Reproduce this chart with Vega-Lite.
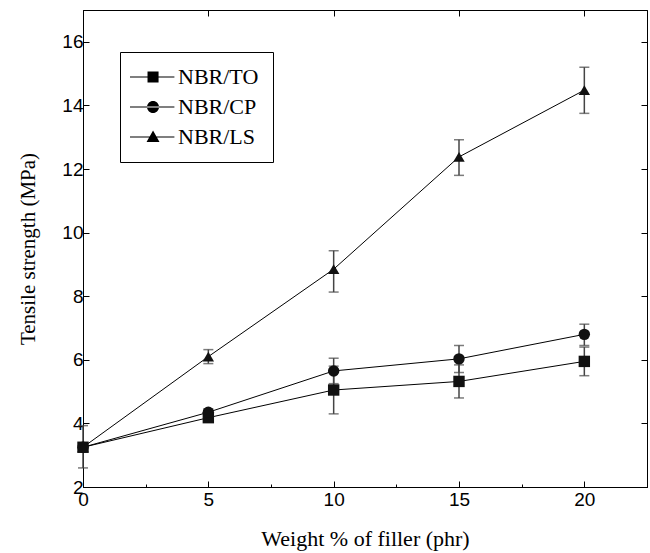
{
  "$schema": "https://vega.github.io/schema/vega-lite/v6.json",
  "autosize": {"type": "none"},
  "padding": {"left": 83, "top": 10, "right": 3, "bottom": 66},
  "width": 564,
  "height": 477,
  "background": "white",
  "config": {
    "view": {"stroke": "black", "strokeWidth": 1},
    "axis": {
      "domainColor": "black",
      "tickColor": "black",
      "labelColor": "black",
      "titleColor": "black",
      "grid": false,
      "labelFont": "Liberation Sans",
      "labelFontSize": 19,
      "titleFont": "Liberation Serif",
      "titleFontWeight": "normal",
      "titleFontSize": 21
    }
  },
  "data": {
    "values": [
      {"x": 0, "s": "NBR/TO", "y": 3.25, "lo": 2.6, "hi": 3.93},
      {"x": 5, "s": "NBR/TO", "y": 4.18, "lo": 4.08, "hi": 4.28},
      {"x": 10, "s": "NBR/TO", "y": 5.05, "lo": 4.3, "hi": 5.8},
      {"x": 15, "s": "NBR/TO", "y": 5.32, "lo": 4.8, "hi": 5.84},
      {"x": 20, "s": "NBR/TO", "y": 5.95, "lo": 5.5, "hi": 6.4},
      {"x": 0, "s": "NBR/CP", "y": 3.25, "lo": 3.2, "hi": 3.3},
      {"x": 5, "s": "NBR/CP", "y": 4.35, "lo": 4.25, "hi": 4.45},
      {"x": 10, "s": "NBR/CP", "y": 5.65, "lo": 5.25, "hi": 6.05},
      {"x": 15, "s": "NBR/CP", "y": 6.03, "lo": 5.6, "hi": 6.45},
      {"x": 20, "s": "NBR/CP", "y": 6.8, "lo": 6.45, "hi": 7.12},
      {"x": 0, "s": "NBR/LS", "y": 3.25, "lo": 3.2, "hi": 3.3},
      {"x": 5, "s": "NBR/LS", "y": 6.1, "lo": 5.88, "hi": 6.32},
      {"x": 10, "s": "NBR/LS", "y": 8.85, "lo": 8.13, "hi": 9.43},
      {"x": 15, "s": "NBR/LS", "y": 12.38, "lo": 11.8, "hi": 12.92},
      {"x": 20, "s": "NBR/LS", "y": 14.48, "lo": 13.75, "hi": 15.2}
    ]
  },
  "resolve": {"scale": {"shape": "independent"}, "legend": {"shape": "independent"}},
  "layer": [
    {
      "mark": {"type": "line", "color": "black", "strokeWidth": 1},
      "encoding": {
        "x": {
          "field": "x", "type": "quantitative",
          "scale": {"domain": [0, 22.5], "nice": false, "zero": false},
          "axis": {
            "orient": "bottom",
            "title": "Weight % of filler (phr)",
            "titleFontSize": 22,
            "titlePadding": 16,
            "values": [0, 2.5, 5, 7.5, 10, 12.5, 15, 17.5, 20, 22.5],
            "labelExpr": "datum.value % 5 === 0 ? datum.label : ''",
            "tickSize": {"condition": {"test": "datum.value % 5 === 0", "value": -6}, "value": -3},
            "labelPadding": 9,
            "labelFlush": false,
            "labelOverlap": false
          }
        },
        "y": {
          "field": "y", "type": "quantitative",
          "scale": {"domain": [2, 17], "nice": false, "zero": false},
          "axis": {
            "orient": "left",
            "title": "Tensile strength (MPa)",
            "titlePadding": 23,
            "values": [2, 4, 6, 8, 10, 12, 14, 16],
            "tickSize": -6,
            "labelPadding": 6,
            "labelFlush": false,
            "labelOverlap": false
          }
        },
        "detail": {"field": "s"}
      }
    },
    {
      "mark": {"type": "rule", "color": "#444", "strokeWidth": 1.5},
      "encoding": {
        "x": {"field": "x", "type": "quantitative", "axis": null},
        "y": {"field": "lo", "type": "quantitative", "axis": null},
        "y2": {"field": "hi"}
      }
    },
    {
      "mark": {"type": "tick", "orient": "horizontal", "color": "#444", "size": 10, "thickness": 1.5},
      "encoding": {
        "x": {"field": "x", "type": "quantitative", "axis": null},
        "y": {"field": "lo", "type": "quantitative", "axis": null}
      }
    },
    {
      "mark": {"type": "tick", "orient": "horizontal", "color": "#444", "size": 10, "thickness": 1.5},
      "encoding": {
        "x": {"field": "x", "type": "quantitative", "axis": null},
        "y": {"field": "hi", "type": "quantitative", "axis": null}
      }
    },
    {
      "mark": {"type": "point", "filled": true, "color": "#111", "opacity": 1, "size": 130},
      "encoding": {
        "x": {"field": "x", "type": "quantitative", "axis": null},
        "y": {"field": "y", "type": "quantitative", "axis": null},
        "shape": {
          "field": "s", "type": "nominal",
          "scale": {"domain": ["NBR/TO", "NBR/CP", "NBR/LS"], "range": ["square", "circle", "triangle-up"]},
          "legend": null
        }
      }
    },
    {
      "mark": {"type": "point", "filled": true, "fill": "black", "stroke": "black", "strokeWidth": 1, "opacity": 0, "size": 144},
      "encoding": {
        "x": {
          "field": "x", "type": "quantitative",
          "axis": {"orient": "top", "title": null, "labels": false, "values": [0, 5, 10, 15, 20], "tickSize": -6, "domain": true}
        },
        "y": {
          "field": "y", "type": "quantitative",
          "axis": {"orient": "right", "title": null, "labels": false, "values": [2, 4, 6, 8, 10, 12, 14, 16], "tickSize": -6, "domain": true}
        },
        "shape": {
          "field": "s", "type": "nominal",
          "scale": {
            "domain": ["NBR/TO", "NBR/CP", "NBR/LS"],
            "range": [
              "M-2.5,-0.08H4.9V0.08H-2.5ZM0.42,-0.92H2.26V0.92H0.42Z",
              "M-2.5,-0.08H4.9V0.08H-2.5ZM0.34,0A1,1,0,1,0,2.34,0A1,1,0,1,0,0.34,0Z",
              "M-2.5,-0.08H4.9V0.08H-2.5ZM1.34,-1.1L2.42,0.85H0.26Z"
            ]
          },
          "legend": {
            "orient": "none",
            "legendX": 37,
            "legendY": 42,
            "title": null,
            "strokeColor": "black",
            "padding": 14,
            "rowPadding": 8,
            "symbolSize": 144,
            "symbolOpacity": 1,
            "symbolFillColor": "black",
            "symbolStrokeColor": "black",
            "symbolStrokeWidth": 1,
            "labelFont": "Liberation Serif",
            "labelFontSize": 22,
            "labelColor": "black",
            "labelOffset": 22,
            "encode": {
              "symbols": {
                "update": {
                  "fill": {"value": "black"},
                  "fillOpacity": {"value": 1},
                  "opacity": {"value": 1}
                }
              }
            }
          }
        }
      }
    }
  ]
}
